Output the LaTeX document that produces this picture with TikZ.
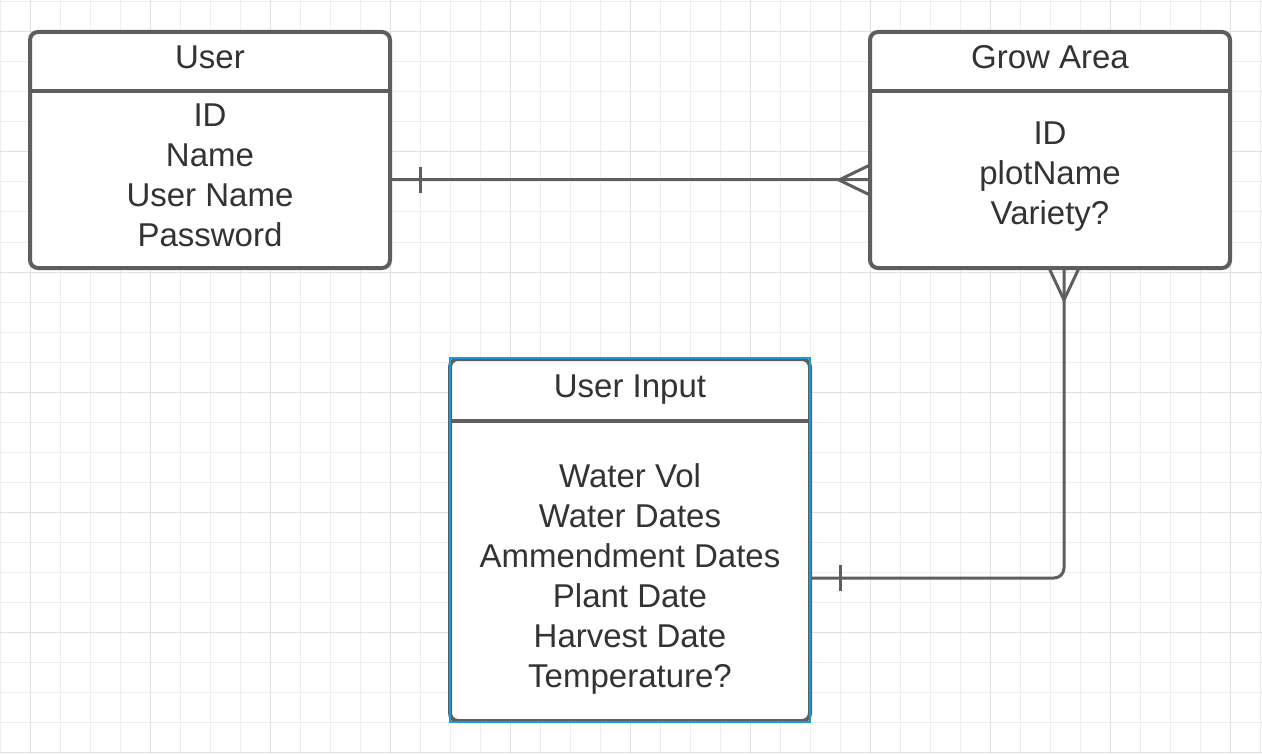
\documentclass[tikz,border=0pt]{standalone}
\usepackage{fontspec}
\setmainfont{Liberation Sans}
\usepackage{tikz}
\usetikzlibrary{calc}

\definecolor{linegray}{HTML}{5E5E5E}
\definecolor{textgray}{HTML}{333333}
\definecolor{gridminor}{HTML}{EEEEEE}
\definecolor{gridmajor}{HTML}{E0E0E0}
\definecolor{selblue}{HTML}{1A9AD6}

\tikzset{
	entity/.style={draw=linegray, line width=2pt, rounded corners=4pt, fill=white, minimum width=180pt, inner sep=0pt, outer sep=0pt},
	fieldtext/.style={text=textgray, font=\fontsize{16.5}{20}\selectfont, align=center, inner sep=0pt},
	link/.style={draw=linegray, line width=1.5pt},
	divider/.style={draw=linegray, line width=2pt},
}

\begin{document}
\begin{tikzpicture}[x=0.5pt,y=-0.5pt]
		\useasboundingbox (0,0) rectangle (1262,754);
		\fill[white] (0,0) rectangle (1262,754);
		
		%grid
		\foreach \gx in {0,30,...,1260}{
			\draw[gridminor, line width=0.5pt] (\gx,0) -- (\gx,754);
		}
		\foreach \gy in {2,32,...,752}{
			\draw[gridminor, line width=0.5pt] (0,\gy) -- (1262,\gy);
		}
		\foreach \gx in {30,150,...,1230}{
			\draw[gridmajor, line width=0.5pt] (\gx,0) -- (\gx,754);
		}
		\foreach \gy in {32,152,...,752}{
			\draw[gridmajor, line width=0.5pt] (0,\gy) -- (1262,\gy);
		}
		
		%entities
		\node[entity, minimum height=118pt] (user) at (210,150) {};
		\node[entity, minimum height=118pt] (grow) at (1050,150) {};
		\node[entity, minimum height=181pt] (input) at (630,540) {};
		
		\draw[divider] ($(user.north west)+(0,59)$) -- ($(user.north east)+(0,59)$);
		\draw[divider] ($(grow.north west)+(0,59)$) -- ($(grow.north east)+(0,59)$);
		\draw[divider] ($(input.north west)+(0,62)$) -- ($(input.north east)+(0,62)$);
		
		%titles
		\node[fieldtext, anchor=base] (usertitle) at ($(user.north)+(0,37)$) {User};
		\node[fieldtext, anchor=base] (growtitle) at ($(grow.north)+(0,37)$) {Grow Area};
		\node[fieldtext, anchor=base] (inputtitle) at ($(input.north)+(0,38)$) {User Input};
		
		%fields
		\node[fieldtext, anchor=north] (userfields) at ($(user.north)+(0,71)$) {ID\\Name\\User Name\\Password};
		\node[fieldtext, anchor=north] (growfields) at ($(grow.north)+(0,89)$) {ID\\plotName\\Variety?};
		\node[fieldtext, anchor=north] (inputfields) at ($(input.north)+(0,104)$) {Water Vol\\Water Dates\\Ammendment Dates\\Plant Date\\Harvest Date\\Temperature?};
		
		%user -- grow area
		\coordinate (ug1) at ($(user.east)+(0,30)$);
		\coordinate (ug2) at ($(grow.west)+(0,30)$);
		\draw[link] (ug1) -- (ug2);
		\draw[link] ($(ug1)+(30,-13)$) -- ($(ug1)+(30,13)$);
		\draw[link] ($(ug2)+(0,-15)$) -- ($(ug2)+(-31,0)$) -- ($(ug2)+(0,15)$);
		
		%grow area -- user input
		\coordinate (gi1) at ($(grow.south)+(14,0)$);
		\coordinate (gi2) at ($(input.east)+(0,38)$);
		\draw[link, rounded corners=5pt] (gi1) |- (gi2);
		\draw[link] ($(gi1)+(-15,0)$) -- ($(gi1)+(0,32)$) -- ($(gi1)+(15,0)$);
		\draw[link] ($(gi2)+(30,-13)$) -- ($(gi2)+(30,13)$);
		
		%selection
		\draw[selblue, line width=1pt] (450,358) rectangle (810,722);
		
\end{tikzpicture}
\end{document}
